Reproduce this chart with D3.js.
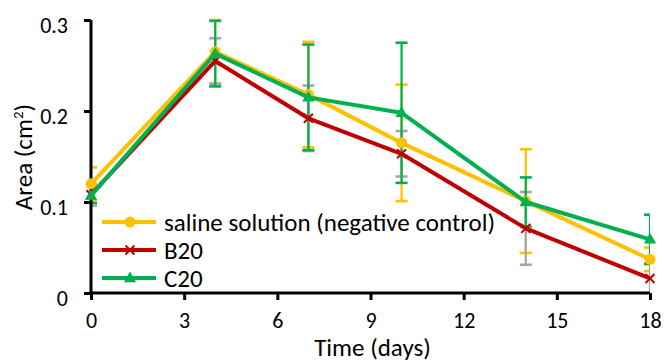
<!DOCTYPE html>
<meta charset="utf-8">
<script src="https://d3js.org/d3.v7.min.js"></script>
<style>
  body { margin: 0; background: #fff; }
  text { font-family: Carlito, Lato, "Open Sans", sans-serif; fill: #000; }
</style>
<div id="chart"></div>
<script>
// days of measurement
const days = [0, 4, 7, 10, 14, 18];

// mean wound area (cm2) per group
const saline = [0.120, 0.265, 0.218, 0.165, 0.101, 0.037];
const b20 = [0.108, 0.255, 0.192, 0.153, 0.071, 0.016];
const c20 = [0.107, 0.263, 0.215, 0.198, 0.100, 0.059];

// error (+/-) per group
const salineErr = [0.018, 0.035, 0.058, 0.064, 0.057, 0.013];
const b20Err = [0.012, 0.025, 0.036, 0.025, 0.040, 0.016];
const c20Err = [0.008, 0.036, 0.058, 0.077, 0.027, 0.027];

const seriesNames = ["saline solution (negative control)", "B20", "C20"];
const xTicks = [0, 3, 6, 9, 12, 15, 18];
const yTicks = [0, 0.1, 0.2, 0.3];

const W = 664, H = 362;
const margin = {top: 20, right: 14, bottom: 69, left: 91};
const width = W - margin.left - margin.right,
      height = H - margin.top - margin.bottom;

const svg = d3.select("#chart").append("svg")
    .attr("width", W).attr("height", H);
const g = svg.append("g")
    .attr("transform", `translate(${margin.left},${margin.top})`);

const x = d3.scaleLinear().domain([0, 18]).range([0, width]);
const y = d3.scaleLinear().domain([0, 0.3]).range([height, 0]);

g.append("clipPath").attr("id", "plotclip")
  .append("rect").attr("x", 0).attr("y", -20).attr("width", width).attr("height", height + 20);

const series = [
  {name: seriesNames[0], vals: saline, err: salineErr, color: "#FFC000", errColor: "#FFC000", marker: "circle"},
  {name: seriesNames[1], vals: b20, err: b20Err, color: "#C00000", errColor: "#A6A6A6", marker: "x"},
  {name: seriesNames[2], vals: c20, err: c20Err, color: "#00B050", errColor: "#00B050", marker: "triangle"}
];

// error bars (clipped to plot area like the original)
const eb = g.append("g").attr("clip-path", "url(#plotclip)");
series.forEach(s => {
  const grp = eb.append("g").attr("stroke", s.errColor).attr("stroke-width", 2.2).attr("fill", "none");
  days.forEach((d, i) => {
    const cx = x(d), hi = y(s.vals[i] + s.err[i]), lo = y(Math.max(0, s.vals[i] - s.err[i]));
    grp.append("line").attr("x1", cx).attr("x2", cx).attr("y1", hi).attr("y2", lo);
    grp.append("line").attr("x1", cx - 6).attr("x2", cx + 6).attr("y1", hi).attr("y2", hi).attr("stroke-width", 2.6);
    grp.append("line").attr("x1", cx - 6).attr("x2", cx + 6).attr("y1", lo).attr("y2", lo).attr("stroke-width", 2.6);
  });
});

// axes
const yAxis = g.append("g")
  .call(d3.axisLeft(y).tickValues(yTicks).tickSize(7).tickFormat(d => d === 0 ? "0" : d3.format(".1f")(d)));
const xAxis = g.append("g").attr("transform", `translate(0,${height})`)
  .call(d3.axisBottom(x).tickValues(xTicks).tickSize(7));
[yAxis, xAxis].forEach(a => {
  a.select(".domain").attr("stroke", "#000").attr("stroke-width", 3);
  a.selectAll(".tick line").attr("stroke", "#000").attr("stroke-width", 3);
  a.selectAll(".tick text").style("font-size", "22px").attr("fill", "#000");
});
yAxis.select(".domain").attr("d", `M0,0V${height}`);
xAxis.select(".domain").attr("d", `M0,0H${width}`);
yAxis.selectAll(".tick text").attr("x", -23).attr("dy", "0.55em");
xAxis.selectAll(".tick text").attr("y", 35).attr("dy", "0");

// lines
const line = d3.line().x((d, i) => x(days[i])).y(d => y(d));

function drawMarker(sel, type, cx, cy, color) {
  if (type === "circle") {
    sel.append("circle").attr("cx", cx).attr("cy", cy).attr("r", 5.5).attr("fill", color);
  } else if (type === "x") {
    const r = 4.5;
    sel.append("path").attr("d", `M${cx - r},${cy - r}L${cx + r},${cy + r}M${cx - r},${cy + r}L${cx + r},${cy - r}`)
      .attr("stroke", color).attr("stroke-width", 2).attr("fill", "none");
  } else {
    const r = 6.5;
    sel.append("path").attr("d", `M${cx},${cy - r}L${cx + r * 0.95},${cy + r * 0.65}L${cx - r * 0.95},${cy + r * 0.65}Z`)
      .attr("fill", color);
  }
}

series.forEach(s => {
  g.append("path").datum(s.vals)
    .attr("d", line).attr("fill", "none")
    .attr("stroke", s.color).attr("stroke-width", 4).attr("stroke-linejoin", "round");
  const mk = g.append("g");
  s.vals.forEach((v, i) => drawMarker(mk, s.marker, x(days[i]), y(v), s.color));
});

// legend
const legend = g.append("g").attr("transform", "translate(11,202)");
series.forEach((s, i) => {
  const row = legend.append("g").attr("transform", `translate(0,${i * 28})`);
  row.append("line").attr("x1", 0).attr("x2", 54).attr("y1", 0).attr("y2", 0)
    .attr("stroke", s.color).attr("stroke-width", 4);
  drawMarker(row, s.marker, 28, 0, s.color);
  row.append("text").attr("x", 62).attr("dy", "0.36em").style("font-size", "25px").text(s.name);
});

// axis titles
svg.append("text")
  .attr("transform", `translate(32,${margin.top + 137}) rotate(-90)`)
  .attr("text-anchor", "middle").style("font-size", "25px")
  .html('Area (cm<tspan baseline-shift="super" font-size="15px">2</tspan>)');
svg.append("text")
  .attr("x", margin.left + width / 2 + 2).attr("y", 356)
  .attr("text-anchor", "middle").style("font-size", "25px")
  .text("Time (days)");
</script>
